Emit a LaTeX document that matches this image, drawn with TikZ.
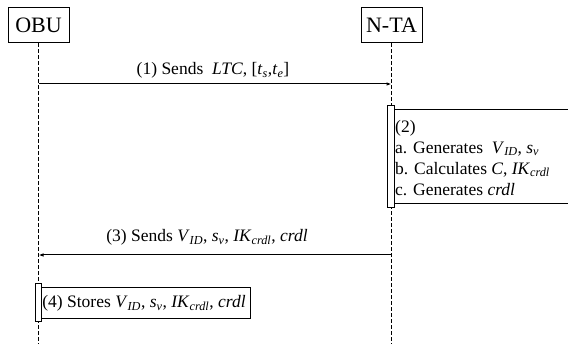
\documentclass[tikz,border=0pt]{standalone}
\usepackage{fontspec}
\setmainfont{Liberation Serif}
\usetikzlibrary{arrows.meta}
\newcommand\mysub[1]{\textsubscript{\textit{#1}}}
\begin{document}
\begin{tikzpicture}[x=1pt,y=-1pt,
  actor/.style={draw,line width=1pt,minimum width=61pt,minimum height=35pt,inner sep=0pt,font=\fontsize{22}{24}\selectfont},
  lifeline/.style={line width=0.7pt,dash pattern=on 3.5pt off 2.5pt},
  msg/.style={line width=1pt,-{Latex[length=5pt,width=3.5pt]}},
  bar/.style={draw,fill=white,line width=1pt},
  lbl/.style={inner sep=0pt,font=\fontsize{17.5}{21}\selectfont},
  frame/.style={line width=1pt}]
\useasboundingbox (0,0) rectangle (568,344);
% actors
\node[actor] (obu) at (38.5,25.5) {OBU};
\node[actor] (nta) at (391.5,25.5) {N-TA};
\coordinate (obuend) at (38.5,344);
\coordinate (ntaend) at (391.5,344);
\draw[lifeline] (obu.south) -- (obuend);
\draw[lifeline] (nta.south) -- (ntaend);
% message 1
\coordinate (m1s) at (38.5,84);
\coordinate (m1e) at (391.5,84);
\draw[msg] (m1s) -- (m1e);
\node[lbl] (l1) at (213,70.5) {(1) Sends \ \textit{LTC}, [\textit{t}\mysub{s},\textit{t}\mysub{e}]};
% step 2
\draw[frame] (568,110) -- (394,110) -- (394,204) -- (568,204);
\node[bar,minimum width=7pt,minimum height=102pt,inner sep=0pt] (bar2) at (390.5,157) {};
\node[lbl,anchor=north west,align=left] (t2) at (395,120) {(2)\\
a. Generates \ \textit{V}\mysub{ID}, \textit{s}\mysub{v}\\
b. Calculates \textit{C}, \textit{IK}\mysub{crdl}\\
c. Generates \textit{crdl}};
% message 3
\coordinate (m3s) at (391.5,255);
\coordinate (m3e) at (38.5,255);
\draw[msg] (m3s) -- (m3e);
\node[lbl] (l3) at (207,237.5) {(3) Sends \textit{V}\mysub{ID}, \textit{s}\mysub{v}, \textit{IK}\mysub{crdl}, \textit{crdl}};
% step 4
\node[draw,frame,minimum width=209pt,minimum height=31pt,inner sep=0pt] (box4) at (145.5,303.5) {};
\node[bar,minimum width=6pt,minimum height=38pt,inner sep=0pt] (bar4) at (38,303) {};
\node[lbl] (t4) at (144,303.5) {(4) Stores \textit{V}\mysub{ID}, \textit{s}\mysub{v}, \textit{IK}\mysub{crdl}, \textit{crdl}};
\end{tikzpicture}
\end{document}
